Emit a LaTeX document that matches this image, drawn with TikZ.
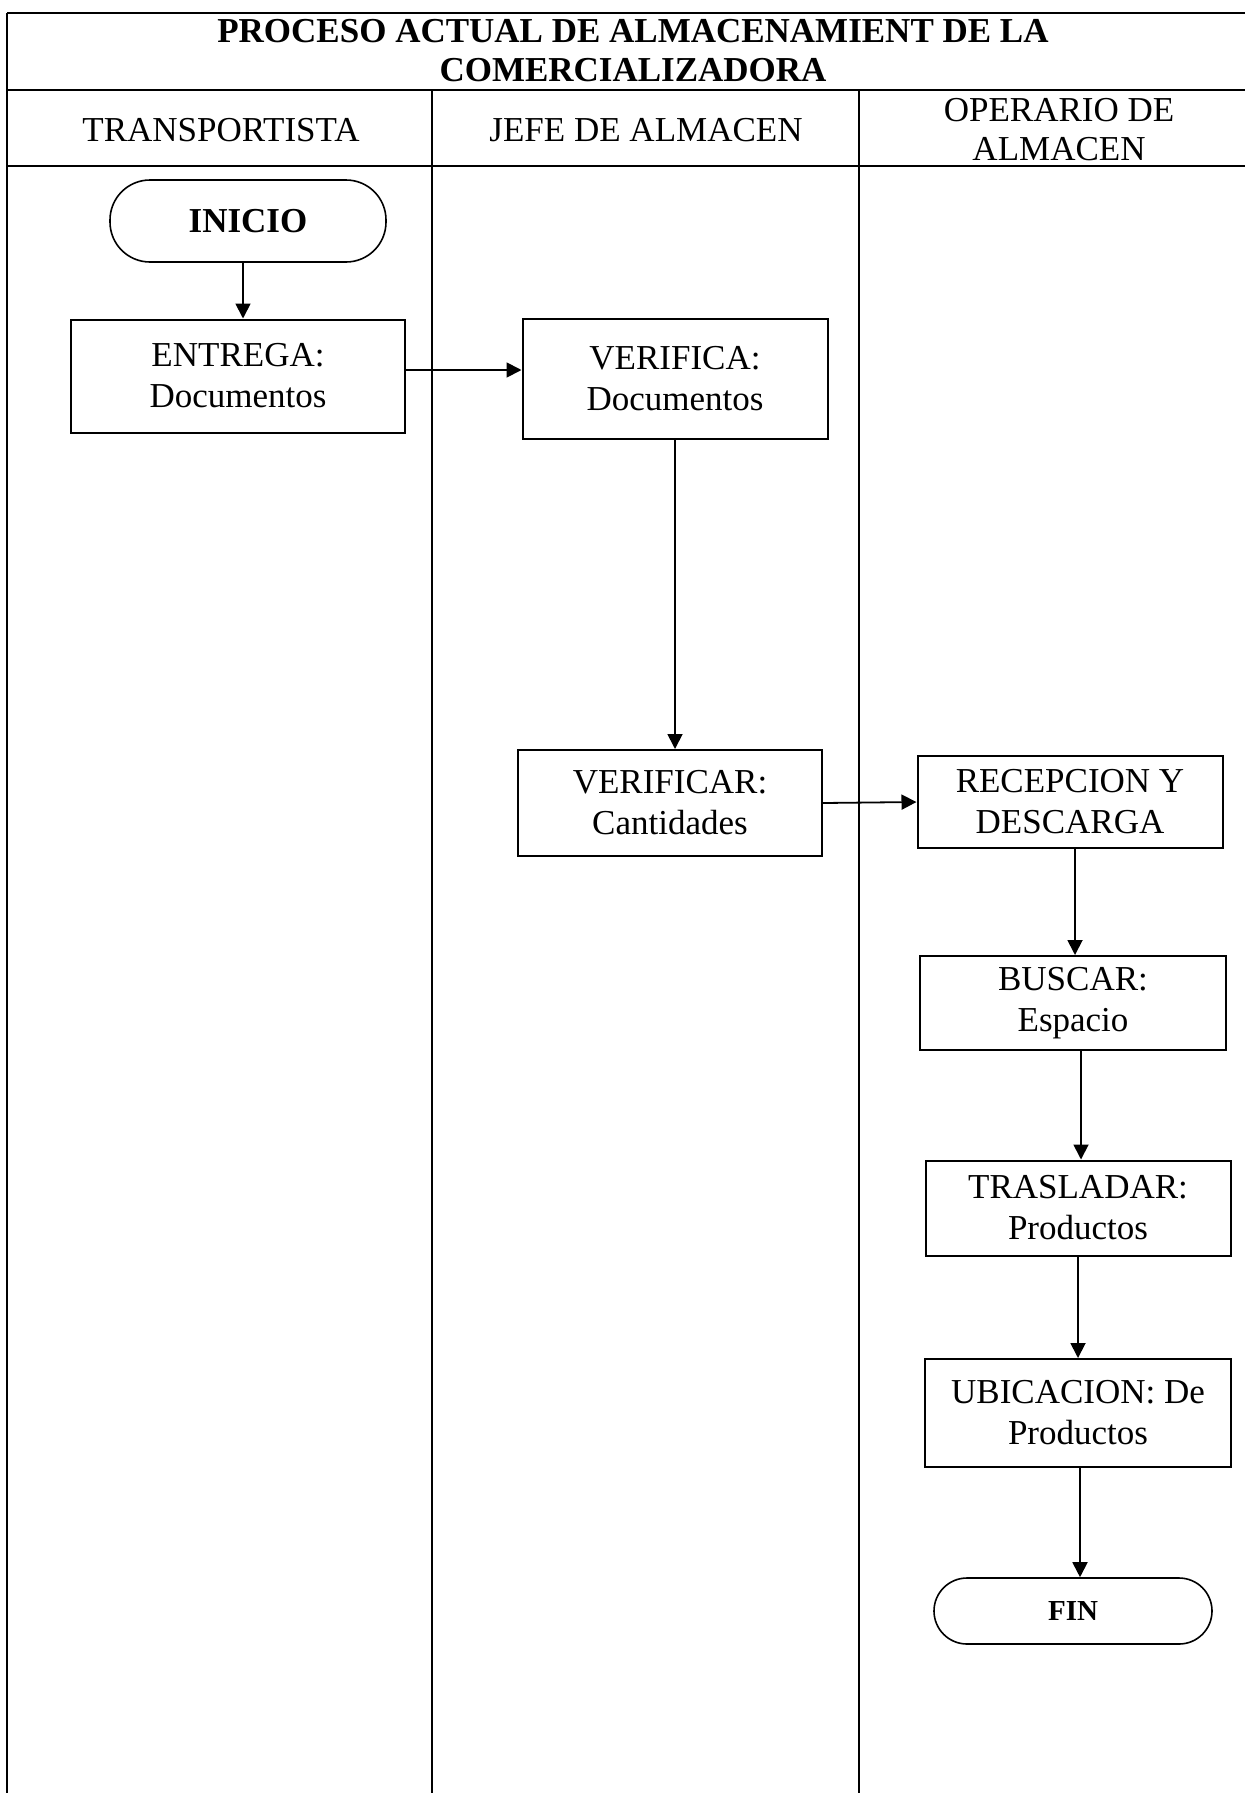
\documentclass[tikz,border=0pt]{standalone}
\usepackage{fontspec}
\setmainfont{Liberation Serif}
\usetikzlibrary{arrows.meta}
\begin{document}
\begin{tikzpicture}[x=1pt,y=-1pt,
  lane/.style={line width=2pt},
  stepbox/.style={draw,line width=2pt,rectangle,inner sep=0pt,align=center,font=\fontsize{35}{41}\selectfont},
  term/.style={draw,line width=1.6pt,rectangle,rounded corners=#1,inner sep=0pt,align=center},
  arr/.style={line width=1.8pt,-{Triangle[length=15pt,width=15pt]}},
  hdr/.style={inner sep=0pt,align=center,font=\fontsize{35}{39}\selectfont}]
\useasboundingbox (0,0) rectangle (1245,1793);
% frame
\draw[lane] (7,13) -- (1245,13);
\draw[lane] (7,90) -- (1245,90);
\draw[lane] (7,166) -- (1245,166);
\draw[lane] (7,13) -- (7,1793);
\draw[lane] (432,90) -- (432,1793);
\draw[lane] (859,90) -- (859,1793);
% title and headers
\node[hdr,font=\bfseries\fontsize{35}{39}\selectfont] (title) at (633,51) {PROCESO ACTUAL DE ALMACENAMIENT DE LA\\COMERCIALIZADORA};
\node[hdr] (h1) at (221,130) {TRANSPORTISTA};
\node[hdr] (h2) at (646,130) {JEFE DE ALMACEN};
\node[hdr] (h3) at (1059,130) {OPERARIO DE\\ALMACEN};
% nodes
\node[term=40pt,minimum width=276pt,minimum height=82pt,font=\bfseries\fontsize{35}{41}\selectfont] (inicio) at (248,221) {INICIO};
\node[stepbox,minimum width=334pt,minimum height=113pt] (entrega) at (238,376) {ENTREGA:\\Documentos};
\node[stepbox,minimum width=305pt,minimum height=120pt] (verifica) at (675,379) {VERIFICA:\\Documentos};
\node[stepbox,minimum width=304pt,minimum height=106pt] (verificar) at (670,803) {VERIFICAR:\\Cantidades};
\node[stepbox,minimum width=305pt,minimum height=92pt] (recepcion) at (1070,802) {RECEPCION Y\\DESCARGA};
\node[stepbox,minimum width=306pt,minimum height=94pt] (buscar) at (1073,1003) {BUSCAR:\\Espacio};
\node[stepbox,minimum width=305pt,minimum height=95pt] (trasladar) at (1078,1208) {TRASLADAR:\\Productos};
\node[stepbox,minimum width=306pt,minimum height=108pt] (ubicacion) at (1078,1413) {UBICACION: De\\Productos};
\node[term=33pt,minimum width=278pt,minimum height=66pt,font=\bfseries\fontsize{29}{35}\selectfont] (fin) at (1073,1611) {FIN};
% connectors
\draw[arr] ([xshift=-5pt]inicio.south) -- ([xshift=5pt]entrega.north);
\draw[arr] ([yshift=6pt]entrega.east) -- ([yshift=9pt]verifica.west);
\draw[arr] (verifica.south) -- (verificar.north -| verifica.south);
\draw[arr] (verificar.east) -- (recepcion.west);
\draw[arr] ([xshift=5pt]recepcion.south) -- ([xshift=2pt]buscar.north);
\draw[arr] ([xshift=8pt]buscar.south) -- ([xshift=3pt]trasladar.north);
\draw[arr] (trasladar.south) -- (ubicacion.north);
\draw[arr] ([xshift=2pt]ubicacion.south) -- ([xshift=7pt]fin.north);
\end{tikzpicture}
\end{document}
